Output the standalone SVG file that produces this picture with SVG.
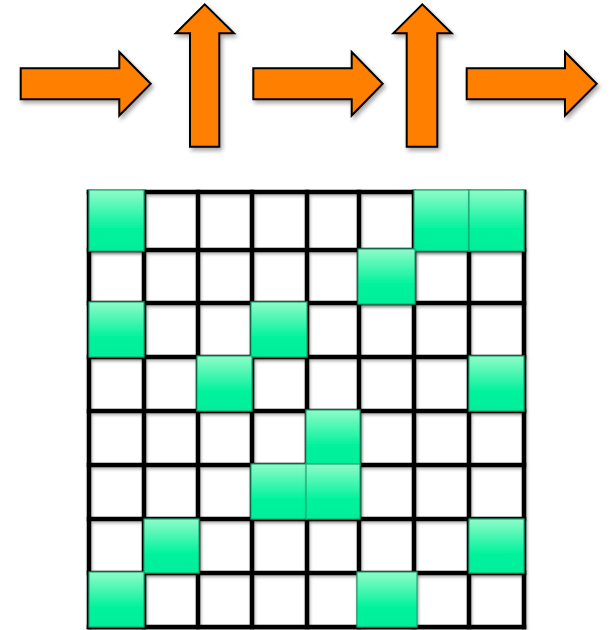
<svg xmlns="http://www.w3.org/2000/svg" width="610" height="630" viewBox="0 0 610 630">
  <defs>
    <filter id="sh" x="-20%" y="-20%" width="140%" height="140%">
      <feDropShadow dx="2" dy="3" stdDeviation="2" flood-color="#000" flood-opacity="0.35"/>
    </filter>
    <filter id="gsh" x="-10%" y="-10%" width="120%" height="120%">
      <feDropShadow dx="1" dy="2" stdDeviation="1.5" flood-color="#000" flood-opacity="0.3"/>
    </filter>
    <linearGradient id="gg" x1="0" y1="0" x2="0" y2="1">
      <stop offset="0" stop-color="#8ffbc8"/>
      <stop offset="0.65" stop-color="#00f29c"/>
      <stop offset="1" stop-color="#00ee9a"/>
    </linearGradient>
    <style>
      .arrow { fill: #ff7f00; stroke: #000; stroke-width: 2; stroke-linejoin: miter; filter: url(#sh); }
      .gl { stroke: #000; stroke-width: 4.5; stroke-linecap: square; }
      .cell { fill: url(#gg); stroke: #1aa874; stroke-width: 1.2; filter: url(#gsh); }
    </style>
  </defs>
  <rect width="610" height="630" fill="#fff"/>

  <g id="arrow-right-1"><polygon class="arrow" points="20.7,68.3 119.3,68.3 119.3,52 150.7,83.8 119.3,115.5 119.3,99.3 20.7,99.3"/></g>
  <g id="arrow-up-1"><polygon class="arrow" points="190,146.7 190,33.3 175.7,33.3 204.7,4.3 234,33.3 219.3,33.3 219.3,146.7"/></g>
  <g id="arrow-right-2"><polygon class="arrow" points="253.3,68.3 351.7,68.3 351.7,52 382.7,83.8 351.7,115.5 351.7,99.3 253.3,99.3"/></g>
  <g id="arrow-up-2"><polygon class="arrow" points="406.7,146.7 406.7,33.3 393.3,33.3 422.3,4.3 451.7,33.3 437.3,33.3 437.3,146.7"/></g>
  <g id="arrow-right-3"><polygon class="arrow" points="466.7,68.3 565,68.3 565,52 596.7,83.8 565,115.5 565,99.3 466.7,99.3"/></g>

  <g id="grid" filter="url(#gsh)">
    <line class="gl" x1="89" y1="192" x2="524" y2="192"/>
    <line class="gl" x1="89" y1="250" x2="524" y2="250"/>
    <line class="gl" x1="89" y1="303" x2="524" y2="303"/>
    <line class="gl" x1="89" y1="357" x2="524" y2="357"/>
    <line class="gl" x1="89" y1="411" x2="524" y2="411"/>
    <line class="gl" x1="89" y1="465" x2="524" y2="465"/>
    <line class="gl" x1="89" y1="519" x2="524" y2="519"/>
    <line class="gl" x1="89" y1="573" x2="524" y2="573"/>
    <line class="gl" x1="89" y1="627" x2="524" y2="627"/>
    <line class="gl" x1="89" y1="192" x2="89" y2="627"/>
    <line class="gl" x1="144" y1="192" x2="144" y2="627"/>
    <line class="gl" x1="198" y1="192" x2="198" y2="627"/>
    <line class="gl" x1="252" y1="192" x2="252" y2="627"/>
    <line class="gl" x1="307" y1="192" x2="307" y2="627"/>
    <line class="gl" x1="359" y1="192" x2="359" y2="627"/>
    <line class="gl" x1="414" y1="192" x2="414" y2="627"/>
    <line class="gl" x1="469" y1="192" x2="469" y2="627"/>
    <line class="gl" x1="524" y1="192" x2="524" y2="627"/>
  </g>

  <g id="cells">
    <g id="c0-0"><rect class="cell" x="89" y="190" width="55" height="61"/></g>
    <g id="c0-6"><rect class="cell" x="414" y="190" width="55" height="61"/></g>
    <g id="c0-7"><rect class="cell" x="469" y="190" width="55" height="61"/></g>
    <g id="c1-5"><rect class="cell" x="358" y="249" width="57" height="55"/></g>
    <g id="c2-0"><rect class="cell" x="89" y="302" width="55" height="55"/></g>
    <g id="c2-3"><rect class="cell" x="251" y="302" width="56" height="55"/></g>
    <g id="c3-2"><rect class="cell" x="197" y="356" width="55" height="55"/></g>
    <g id="c3-7"><rect class="cell" x="469" y="356" width="55" height="55"/></g>
    <g id="c4-4"><rect class="cell" x="306" y="410" width="54" height="55"/></g>
    <g id="c5-3"><rect class="cell" x="251" y="464" width="56" height="55"/></g>
    <g id="c5-4"><rect class="cell" x="306" y="464" width="54" height="55"/></g>
    <g id="c6-1"><rect class="cell" x="144" y="519" width="55" height="54"/></g>
    <g id="c6-7"><rect class="cell" x="469" y="519" width="55" height="54"/></g>
    <g id="c7-0"><rect class="cell" x="89" y="572" width="55" height="55"/></g>
    <g id="c7-5"><rect class="cell" x="357" y="572" width="60" height="55"/></g>
  </g>
</svg>
